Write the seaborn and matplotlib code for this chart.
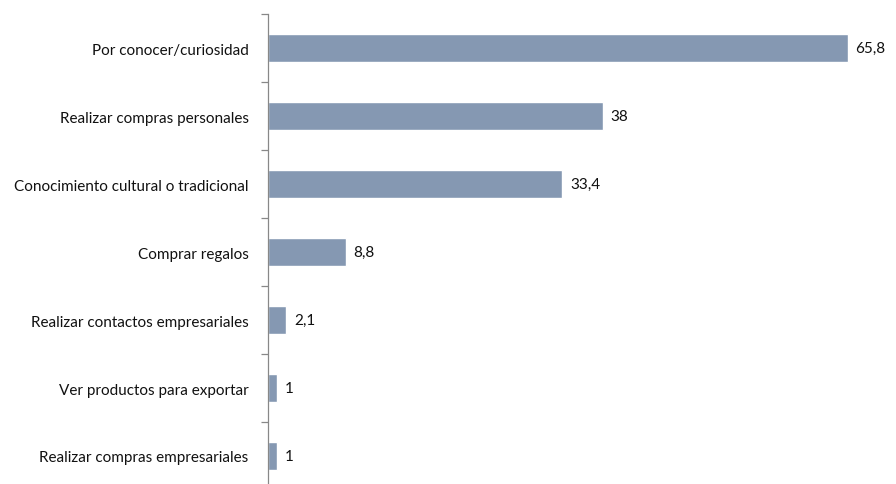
import matplotlib
matplotlib.use("Agg")
import matplotlib.pyplot as plt
import seaborn as sns
import pandas as pd
import numpy as np

categories = [
    "Por conocer/curiosidad",
    "Realizar compras personales",
    "Conocimiento cultural o tradicional",
    "Comprar regalos",
    "Realizar contactos empresariales",
    "Ver productos para exportar",
    "Realizar compras empresariales",
]
values = [65.8, 38, 33.4, 8.8, 2.1, 1, 1]
value_labels = ["65,8", "38", "33,4", "8,8", "2,1", "1", "1"]

df = pd.DataFrame({"motivo": categories, "pct": values})

sns.set_style("white")
plt.rcParams["font.family"] = ["Lato", "DejaVu Sans"]

W, H = 896, 485
fig = plt.figure(figsize=(W / 100, H / 100), dpi=100)
ax = fig.add_axes([268 / W, (H - 491) / H, (W - 268) / W, (491 - 15) / H])

sns.barplot(data=df, y="motivo", x="pct", orient="h", color="#8598B2",
            saturation=1, width=0.41, ax=ax, order=categories)

ax.set_xlim(0, 71.3)
ax.set_ylim(len(categories) - 0.5, -0.5)
ax.set_xlabel("")
ax.set_ylabel("")
ax.set_xticks([])

for s in ["top", "right", "bottom"]:
    ax.spines[s].set_visible(False)
ax.spines["left"].set_color("#888888")
ax.spines["left"].set_linewidth(0.9)

ax.tick_params(axis="y", which="major", left=False, length=0, pad=14,
               labelsize=11, labelcolor="#111111")
ax.set_yticks(np.arange(-0.5, len(categories) + 0.5, 1), minor=True)
ax.tick_params(axis="y", which="minor", left=True, length=5, width=0.9,
               color="#888888", direction="out")

for i, (v, lab) in enumerate(zip(values, value_labels)):
    ax.text(v + 0.9, i, lab, va="center", ha="left", fontsize=11,
            color="#111111")

fig.savefig("out.png", dpi=100)
